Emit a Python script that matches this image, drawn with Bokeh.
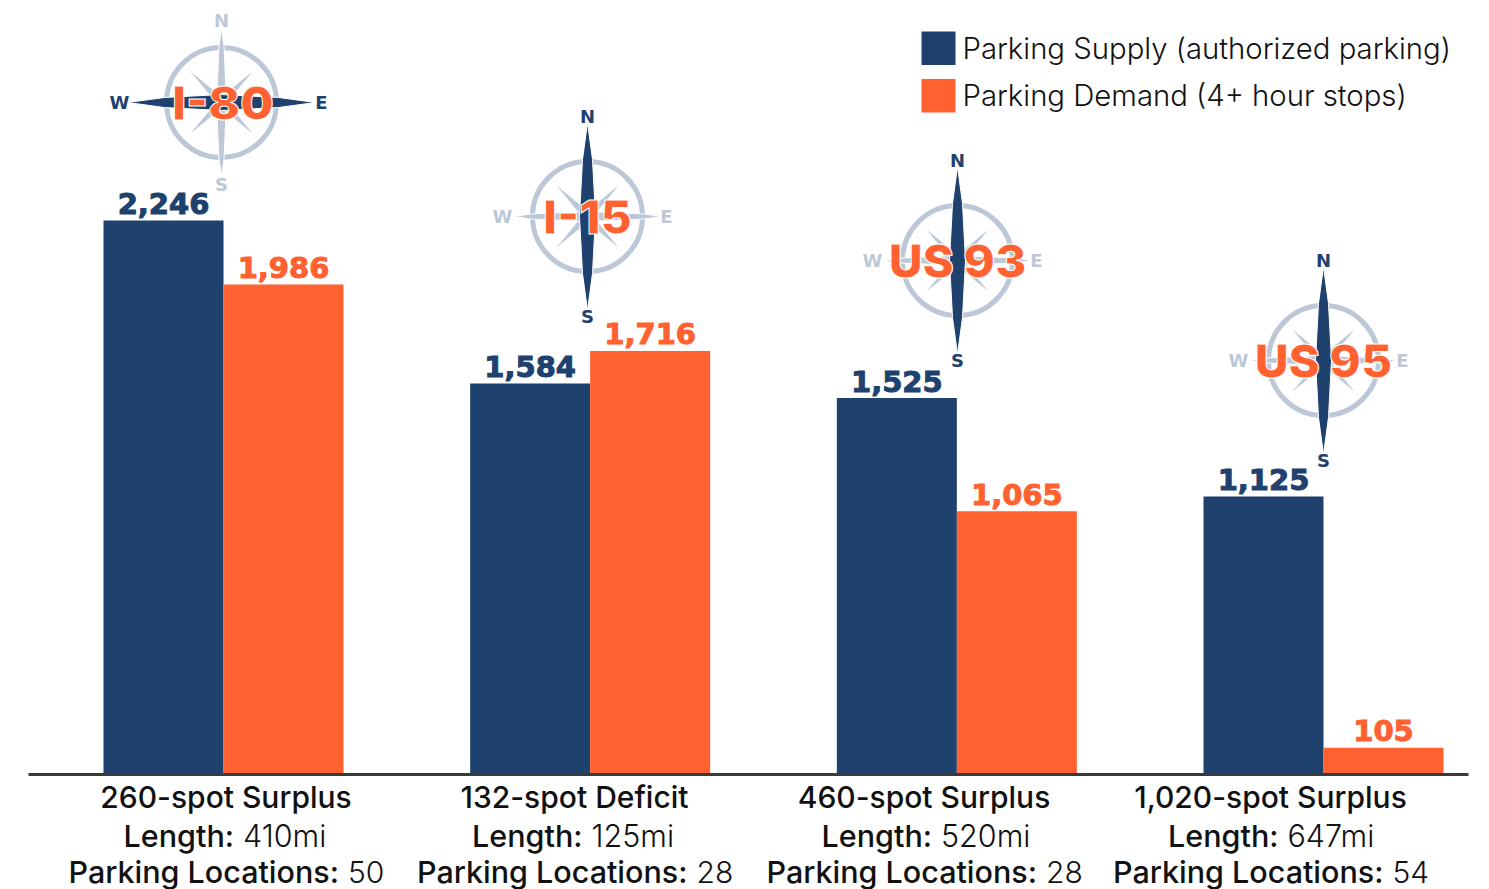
from bokeh.plotting import figure
from bokeh.embed import file_html
from bokeh.resources import INLINE
from bokeh.core.properties import value
from bokeh.models import Range1d

supply = [2246, 1584, 1525, 1125]
demand = [1986, 1716, 1065, 105]
routes = ["I-80", "I-15", "US 93", "US 95"]
balance = ["260-spot Surplus", "132-spot Deficit", "460-spot Surplus", "1,020-spot Surplus"]
lengths = ["410mi", "125mi", "520mi", "647mi"]
locations = ["50", "28", "28", "54"]
series = ["Parking Supply (authorized parking)", "Parking Demand (4+ hour stops)"]

NAVY = "#1E416E"
ORANGE = "#FF6130"
GREY = "#BCC8D7"
LIGHT = "Inter Light"
MEDIUM = "Inter Medium"
HEAVY = "DejaVu Sans"

LEFT, TOP = 0, 0
W, H = 1489, 889
PX_PER_GROUP = 366.67
PX_PER_UNIT = 553 / 2246
X0, Y0 = 223, 773


def gx(s):
    return (s - X0) / PX_PER_GROUP


def vy(s):
    return (Y0 - s) / PX_PER_UNIT


p = figure(width=W, height=H, output_backend="svg", toolbar_location=None,
           x_range=Range1d(gx(LEFT), gx(LEFT + W)), y_range=Range1d(vy(TOP + H), vy(TOP)),
           min_border=0, outline_line_color=None, background_fill_color="white")
p.axis.visible = False
p.grid.visible = False

idx = list(range(4))
bw = 120 / PX_PER_GROUP
p.vbar(x=[i - bw / 2 for i in idx], top=supply, bottom=0, width=bw, color=NAVY, line_color=None)
p.vbar(x=[i + bw / 2 for i in idx], top=demand, bottom=0, width=bw, color=ORANGE, line_color=None)

p.segment(x0=[gx(28)], x1=[gx(1468)], y0=[vy(774)], y1=[vy(774)], line_color="#3A3A3A", line_width=3)


def txt(x, y, s, font, size, color, align="center", style="normal", offset=0, outline=None):
    return p.text(x=x, y=y, text=s, text_font=value(font), text_font_size=f"{size}px", text_color=color,
                  text_align=align, text_baseline="middle", text_font_style=style, y_offset=offset,
                  text_outline_color=outline, level="overlay")


txt([i - bw / 2 for i in idx], supply, [f"{v:,}" for v in supply], HEAVY, 29, NAVY, style="bold", offset=-17, outline=NAVY)
txt([i + bw / 2 for i in idx], demand, [f"{v:,}" for v in demand], HEAVY, 29, ORANGE, style="bold", offset=-17, outline=ORANGE)

centres = [(221, 102, "h"), (587, 216, "v"), (957, 260, "v"), (1323, 360, "v")]


def needle(cx, cy, horiz, reach, mid, half, color):
    a = [-reach, -57, 0, 57, reach, 57, 0, -57]
    b = [0, -mid, -half, -mid, 0, mid, half, mid]
    if horiz:
        xs, ys = [cx + u for u in a], [cy + v for v in b]
    else:
        xs, ys = [cx + v for v in b], [cy + u for u in a]
    p.patch([gx(q) for q in xs], [vy(q) for q in ys], fill_color=color, line_color="white", line_width=1)


for (cx, cy, main), route in zip(centres, routes):
    h = main == "h"
    for sgn in (1, -1):
        dx, dy = 31, 31 * sgn
        xs = [cx - dx, cx + 3, cx + dx, cx - 3]
        ys = [cy - dy, cy - 3 * sgn, cy + dy, cy + 3 * sgn]
        p.patch([gx(a) for a in xs], [vy(b) for b in ys], fill_color=GREY, line_color=None)
    p.scatter([gx(cx)], [vy(cy)], marker="circle", size=110, fill_color=None, line_color=GREY, line_width=5)
    needle(cx, cy, not h, 74, 2.5, 5, GREY)
    needle(cx, cy, h, 94, 5, 8, NAVY)
    ncol = GREY if h else NAVY
    ecol = NAVY if h else GREY
    dv = 82 if h else 100
    w_off, e_off = (-102, 100) if h else (-85, 79)
    txt([gx(cx)], [vy(cy - dv)], ["N"], HEAVY, 18, ncol, style="bold")
    txt([gx(cx)], [vy(cy + dv)], ["S"], HEAVY, 18, ncol, style="bold")
    txt([gx(cx + w_off)], [vy(cy)], ["W"], HEAVY, 18, ecol, style="bold")
    txt([gx(cx + e_off)], [vy(cy)], ["E"], HEAVY, 18, ecol, style="bold")
    txt([gx(cx + 1.5 if h else cx)], [vy(cy)], [route], "Inter Black", 47, ORANGE, outline="white")

mids = [225.5, 574, 923.5, 1270]
for m, b, l, n in zip(mids, balance, lengths, locations):
    txt([gx(m)], [vy(796)], [b], MEDIUM, 30, "#111111")
    txt([gx(m + 8)], [vy(835)], ["Length:"], MEDIUM, 30.5, "#111111", align="right")
    txt([gx(m + 17)], [vy(835)], [l], LIGHT, 30.5, "#111111", align="left")
    txt([gx(m + 113)], [vy(871)], ["Parking Locations:"], MEDIUM, 30.5, "#111111", align="right")
    txt([gx(m + 122)], [vy(871)], [n], LIGHT, 30, "#111111", align="left")

for col, top, s, mid in zip([NAVY, ORANGE], [31, 78.5], series, [48, 95]):
    p.quad(left=[gx(921)], right=[gx(955)], top=[vy(top)], bottom=[vy(top + 33.5)], fill_color=col, line_color=None)
    txt([gx(962)], [vy(mid)], [s], LIGHT, 29.3, "#111111", align="left")

open("out.html", "w").write(file_html(p, INLINE))
